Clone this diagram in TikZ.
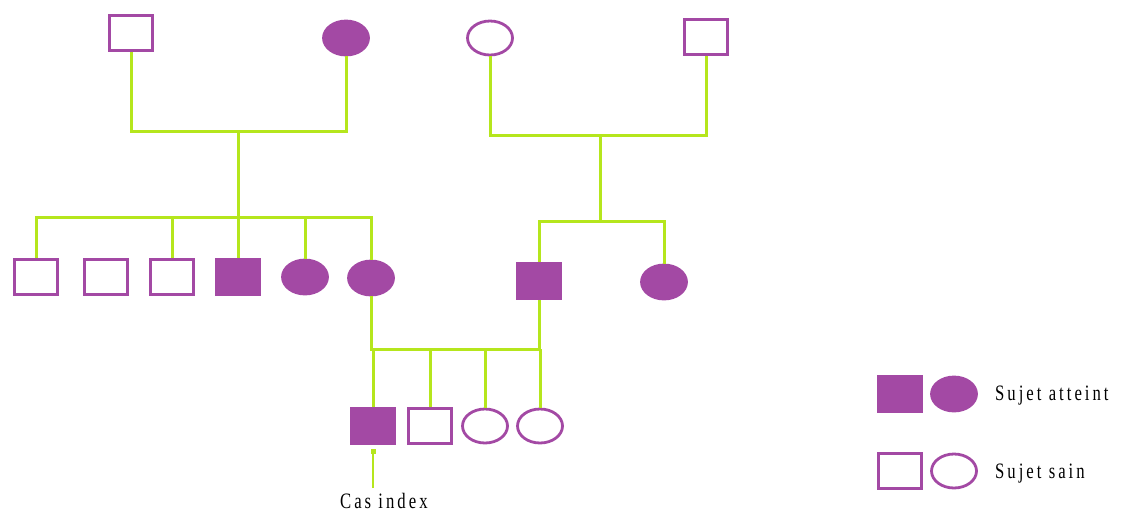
\documentclass[tikz,border=0pt]{standalone}
\usepackage{fontspec}
\setmainfont{Liberation Serif}
\usetikzlibrary{shapes.geometric,arrows.meta}
\definecolor{pur}{HTML}{A349A4}
\definecolor{lime}{HTML}{B5E61D}
\tikzset{
  male/.style={rectangle, draw=pur, line width=2.8pt, minimum width=43pt, minimum height=35pt, inner sep=0pt},
  female/.style={ellipse, draw=pur, line width=2.8pt, minimum width=45pt, minimum height=34pt, inner sep=0pt},
  aff/.style={fill=pur},
  link/.style={draw=lime, line width=3pt},
  lbl/.style={font=\fontsize{22}{26}\selectfont\addfontfeature{LetterSpace=18}, xscale=0.76, transform shape, inner sep=0pt}
}
\begin{document}
\begin{tikzpicture}[x=1pt,y=-1pt]
\useasboundingbox (0,0) rectangle (1123,515);
% generation I
\node[male] (A) at (131,33) {};
\node[female,aff] (B) at (346,38) {};
\node[female] (C) at (490,38) {};
\node[male] (D) at (706,37) {};
% generation II
\node[male] (c1) at (36,277) {};
\node[male] (c2) at (106,277) {};
\node[male] (c3) at (172,277) {};
\node[male,aff] (c4) at (238,277) {};
\node[female,aff] (c5) at (305,277) {};
\node[female,aff] (c6) at (371,278) {};
\node[male,aff] (d1) at (539,281) {};
\node[female,aff] (d2) at (664,282) {};
% generation III
\node[male,aff] (e1) at (373,426) {};
\node[male] (e2) at (430,426) {};
\node[female] (e3) at (485,426) {};
\node[female] (e4) at (540,426) {};
% couple lines
\coordinate (m1) at (238,131);
\coordinate (m2) at (600,135);
\coordinate (s1) at (238,217);
\coordinate (s2) at (600,221);
\coordinate (m3) at (456,349);
\draw[link] (A.south) |- (m1) -| (B.south);
\draw[link] (m1) -- (s1);
\draw[link] (C.south) |- (m2) -| (D.south);
\draw[link] (m2) -- (s2);
% sibship left
\draw[link] (c1.north) |- (s1) -| (c6.north);
\draw[link] (c3.north) -- (c3.north |- s1);
\draw[link] (c4.north) -- (s1);
\draw[link] (c5.north) -- (c5.north |- s1);
% sibship right
\draw[link] (d1.north) |- (s2) -| (d2.north);
% couple III
\draw[link] (c6.south) |- (m3) -| (d1.south);
\draw[link] (e1.north) -- (e1.north |- m3);
\draw[link] (e2.north) -- (e2.north |- m3);
\draw[link] (e3.north) -- (e3.north |- m3);
\draw[link] (e4.north) -- (e4.north |- m3);
% index case
\coordinate (ix) at (373,488);
\draw[link, line width=2.5pt, -{Rectangle[length=5pt,width=5pt]}, shorten >=4pt] (ix) -- (e1.south);
\node[lbl, anchor=base west] (t0) at (340,508) {Cas index};
% legend
\node[male,aff] (l1) at (900,394) {};
\node[female,aff] (l2) at (954,394) {};
\node[male] (l3) at (900,471) {};
\node[female] (l4) at (954,471) {};
\node[lbl, anchor=base west] (t1) at (995,400) {Sujet atteint};
\node[lbl, anchor=base west] (t2) at (995,478) {Sujet sain};
\end{tikzpicture}
\end{document}
